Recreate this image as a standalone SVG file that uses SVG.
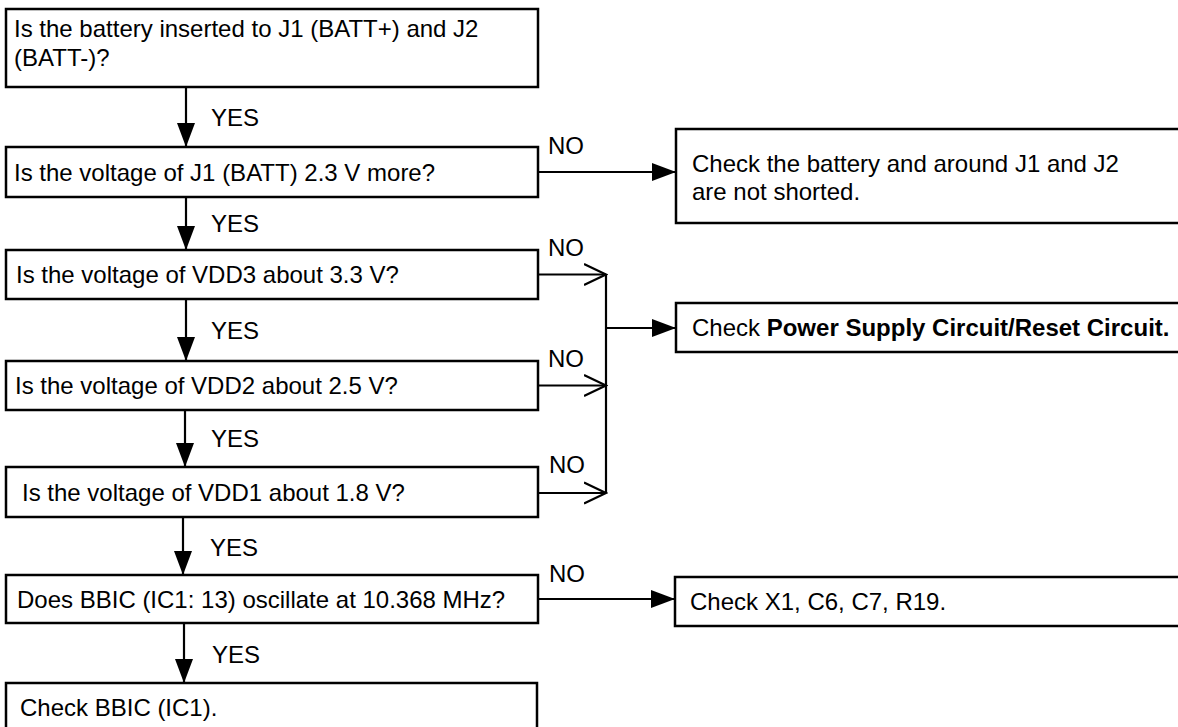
<svg xmlns="http://www.w3.org/2000/svg" width="1178" height="727" viewBox="0 0 1178 727">
<defs>
<style>
.box{fill:#fff;stroke:#000;stroke-width:2.5}
.t{font-family:"Liberation Sans",Arial,sans-serif;font-size:24px;fill:#000}
.b{font-weight:bold}
.ln{fill:none;stroke:#000;stroke-width:2.2}
</style>
<marker id="fa" viewBox="0 0 24 18" refX="24" refY="9" markerWidth="24" markerHeight="18" markerUnits="userSpaceOnUse" orient="auto">
<path d="M0,0 L24,9 L0,18 Z" fill="#000"/>
</marker>
<marker id="oa" viewBox="0 0 24 24" refX="22" refY="12" markerWidth="24" markerHeight="24" markerUnits="userSpaceOnUse" orient="auto">
<path d="M0,1.5 L22,12 L0,22.5" fill="none" stroke="#000" stroke-width="2.2"/>
</marker>
</defs>
<rect width="1178" height="727" fill="#fff"/>
<g id="connectors">
<line class="ln" x1="186" y1="87" x2="186" y2="147" marker-end="url(#fa)"/>
<line class="ln" x1="186" y1="197" x2="186" y2="250" marker-end="url(#fa)"/>
<line class="ln" x1="186" y1="299" x2="186" y2="361" marker-end="url(#fa)"/>
<line class="ln" x1="185" y1="410" x2="185" y2="467" marker-end="url(#fa)"/>
<line class="ln" x1="183" y1="517" x2="183" y2="575" marker-end="url(#fa)"/>
<line class="ln" x1="184" y1="623" x2="184" y2="683" marker-end="url(#fa)"/>
<line class="ln" x1="538" y1="172" x2="676" y2="172" marker-end="url(#fa)"/>
<line class="ln" x1="538" y1="274.5" x2="606" y2="274.5" marker-end="url(#oa)"/>
<line class="ln" x1="538" y1="385.5" x2="606" y2="385.5" marker-end="url(#oa)"/>
<line class="ln" x1="538" y1="493" x2="606" y2="493" marker-end="url(#oa)"/>
<line class="ln" x1="606" y1="274.5" x2="606" y2="493"/>
<line class="ln" x1="606" y1="328" x2="676" y2="328" marker-end="url(#fa)"/>
<line class="ln" x1="538" y1="599" x2="675" y2="599" marker-end="url(#fa)"/>
<text class="t" x="211" y="126">YES</text>
<text class="t" x="211" y="232">YES</text>
<text class="t" x="211" y="339">YES</text>
<text class="t" x="211" y="447">YES</text>
<text class="t" x="210" y="556">YES</text>
<text class="t" x="212" y="663">YES</text>
<text class="t" x="548" y="154">NO</text>
<text class="t" x="548" y="256">NO</text>
<text class="t" x="548" y="367">NO</text>
<text class="t" x="549" y="473">NO</text>
<text class="t" x="549" y="582">NO</text>
</g>
<g id="n1"><rect class="box" x="6" y="9" width="532" height="78"/>
<text class="t" x="14" y="37">Is the battery inserted to J1 (BATT+) and J2</text>
<text class="t" x="14" y="66">(BATT-)?</text></g>
<g id="n2"><rect class="box" x="6" y="147" width="532" height="50"/>
<text class="t" x="14" y="180.5">Is the voltage of J1 (BATT) 2.3 V more?</text></g>
<g id="n3"><rect class="box" x="6" y="250" width="532" height="49"/>
<text class="t" x="16" y="283">Is the voltage of VDD3 about 3.3 V?</text></g>
<g id="n4"><rect class="box" x="6" y="361" width="532" height="49"/>
<text class="t" x="15" y="394">Is the voltage of VDD2 about 2.5 V?</text></g>
<g id="n5"><rect class="box" x="6" y="467" width="532" height="50"/>
<text class="t" x="22" y="501">Is the voltage of VDD1 about 1.8 V?</text></g>
<g id="n6"><rect class="box" x="6" y="575" width="532" height="48"/>
<text class="t" x="17" y="608">Does BBIC (IC1: 13) oscillate at 10.368 MHz?</text></g>
<g id="n7"><rect class="box" x="6" y="683" width="531" height="60"/>
<text class="t" x="20" y="716">Check BBIC (IC1).</text></g>
<g id="r1"><rect class="box" x="676" y="129" width="520" height="94"/>
<text class="t" x="692" y="172">Check the battery and around J1 and J2</text>
<text class="t" x="692" y="200">are not shorted.</text></g>
<g id="r2"><rect class="box" x="676" y="303" width="520" height="49"/>
<text class="t" x="692" y="336">Check <tspan class="b">Power Supply Circuit/Reset Circuit.</tspan></text></g>
<g id="r3"><rect class="box" x="675" y="577" width="520" height="49"/>
<text class="t" x="690" y="610">Check X1, C6, C7, R19.</text></g>
</svg>
